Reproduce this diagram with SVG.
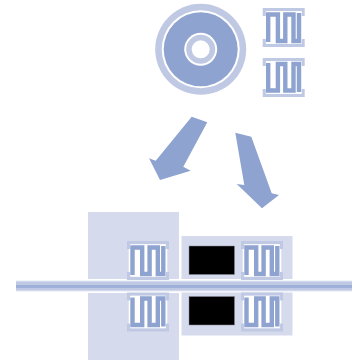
<svg xmlns="http://www.w3.org/2000/svg" width="352" height="361" viewBox="0 0 352 361">
<style>
.lt{fill:#d5daed}.fr{fill:#c0c9e3}.bl{fill:#8fa3d0}.wh{fill:#fff}.bk{fill:#000;stroke:#8a8a9a;stroke-width:.5}
.mz{fill:none;stroke:#8fa3d0;stroke-width:4.400;stroke-linejoin:miter}
</style>
<defs>
<g id="frame">
<path class="fr" d="M0 0H42V8H38.800V3.200H3.200V8H0ZM0 31H3.200V35.800H38.800V31H42V39H0Z"/>
<rect class="wh" x="1.700" y="8" width="38.600" height="23"/>
<rect class="wh" x="3.200" y="3.200" width="35.600" height="32.600"/>
</g>
<g id="combUp">
<use href="#frame"/>
<path class="mz" d="M5.500 34V6.500H15H15.200V33H22.600V6.500H30.800V33H36.300V5"/>
</g>
<g id="combDown">
<use href="#frame"/>
<path class="mz" d="M5.500 5V32.500H15.200V6H22.600V32.500H30.800V6H36.300V34"/>
</g>
</defs>
<g id="disc">
<circle class="fr" cx="200.700" cy="49.300" r="45.500"/>
<circle class="wh" cx="200.700" cy="49.300" r="39"/>
<circle class="bl" cx="200.700" cy="49.300" r="37"/>
<circle class="wh" cx="200.700" cy="49.300" r="16.500"/>
<circle class="fr" cx="200.700" cy="49.300" r="14.500"/>
<circle class="wh" cx="200.700" cy="49.300" r="9"/>
</g>
<g id="sensor-top-1"><use href="#combUp" x="262.700" y="8"/></g>
<g id="sensor-top-2"><use href="#combDown" x="262.700" y="58"/></g>
<g id="connectors">
<polygon class="bl" points="191.700,116.700 207.300,122.300 183.300,166.700 190.700,170.700 160,180 149,158.300 155.700,160.700"/>
<polygon class="bl" points="235.300,132.700 251.300,136.700 271.700,193.300 279,195 262,208.300 236.700,184 244.300,185"/>
</g>
<g id="panel-left-upper"><rect class="lt" x="88" y="212" width="91" height="67"/></g>
<g id="panel-left-lower"><rect class="lt" x="88" y="293" width="91" height="67"/></g>
<g id="panel-right-upper"><rect class="lt" x="181.500" y="236" width="111" height="43"/></g>
<g id="panel-right-lower"><rect class="lt" x="181.500" y="292.500" width="111" height="43"/></g>
<g id="substrate">
<rect x="16" y="280.500" width="336" height="11" fill="#e6e9f5"/>
<rect x="16" y="281.500" width="336" height="9" fill="#c0c9e3"/>
<rect x="16" y="285" width="336" height="3" fill="#9fb0d8"/>
</g>
<g id="chip-upper"><rect class="bk" x="189" y="246" width="45.500" height="28.500"/></g>
<g id="chip-lower"><rect class="bk" x="189" y="296.500" width="45.500" height="28.500"/></g>
<g id="sensor-left-upper"><use href="#combUp" x="127" y="241"/></g>
<g id="sensor-left-lower"><use href="#combDown" x="127" y="292.500"/></g>
<g id="sensor-right-upper"><use href="#combUp" x="241" y="241"/></g>
<g id="sensor-right-lower"><use href="#combDown" x="241" y="292.500"/></g>
</svg>
